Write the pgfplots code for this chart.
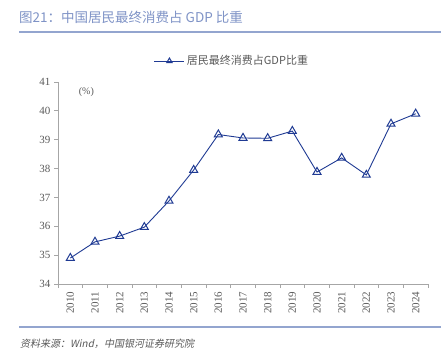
\documentclass[border=0pt]{standalone}
\usepackage{pgfplots}
\pgfplotsset{compat=1.18}
\usepackage{fontspec}
\setmainfont{Liberation Serif}
\newfontfamily\cjk{Noto Sans CJK SC}
\newfontfamily\cjkit[FakeSlant=0.2]{Noto Sans CJK SC}
\definecolor{titleblue}{HTML}{7F93C6}
\definecolor{ruleblue}{HTML}{93A5CF}
\definecolor{lineblue}{HTML}{1F3A93}
\definecolor{axgray}{HTML}{A6A6A6}
\definecolor{txtgray}{HTML}{595959}
\begin{document}
\begin{tikzpicture}
\path[use as bounding box] (0bp,0bp) rectangle (448bp,351bp);
\node[anchor=west, inner sep=0pt, text=titleblue, font=\cjk\fontsize{13.5bp}{15bp}\selectfont] at (19bp,334bp) {图21：中国居民最终消费占 GDP 比重};
\draw[ruleblue, line width=1.2bp] (19bp,319bp) -- (441bp,319bp);
\draw[ruleblue, line width=1.2bp] (19bp,24bp) -- (441bp,24bp);
\node[anchor=west, inner sep=0pt, text=txtgray, font=\cjkit\fontsize{10bp}{12bp}\selectfont] at (20bp,7bp) {资料来源：Wind，中国银河证券研究院};
\begin{axis}[
  at={(58bp,67bp)}, anchor=south west,
  scale only axis, width=370bp, height=202bp,
  xmin=0.5, xmax=15.5, ymin=34, ymax=41,
  axis lines*=left,
  axis line style={axgray, line width=0.8bp},
  ytick={34,...,41},
  xtick={1,...,15},
  xticklabels={2010,2011,2012,2013,2014,2015,2016,2017,2018,2019,2020,2021,2022,2023,2024},
  x tick label style={rotate=90, anchor=east, font=\fontsize{11bp}{13bp}\selectfont, text=txtgray},
  y tick label style={font=\fontsize{11bp}{13bp}\selectfont, text=txtgray},
  /pgf/number format/assume math mode=true,
  major x tick style={draw=none},
  minor xtick={0.5,1.5,...,15.5},
  minor tick length=4bp,
  minor x tick style={axgray, line width=0.8bp},
  major y tick style={axgray, line width=0.8bp},
  major tick length=4bp,
  tick align=outside,
  xtick pos=bottom, ytick pos=left,
  legend style={at={(0.5,1)}, anchor=center, xshift=-11bp, yshift=21bp, draw=none, fill=none,
    font=\cjk\fontsize{11bp}{13bp}\selectfont, text=txtgray, inner sep=1pt},
  legend image code/.code={
    \draw[#1, mark=none] (0bp,0bp) -- (30bp,0bp);
    \draw[#1, mark size=3bp] plot coordinates {(15bp,0bp)};
  },
  legend cell align=left,
  clip=false,
]
\addplot[lineblue, line width=0.9bp, mark=triangle, mark size=4.6bp,
  mark options={fill=white, line width=1bp}]
coordinates {
(1,34.90) (2,35.46) (3,35.66) (4,35.97) (5,36.88) (6,37.95) (7,39.18)
(8,39.06) (9,39.05) (10,39.30) (11,37.88) (12,38.37) (13,37.78) (14,39.55) (15,39.90)
};
\addlegendentry{居民最终消费占GDP比重}
\node[anchor=west, text=txtgray, font=\fontsize{10bp}{12bp}\selectfont, inner sep=0pt] at (rel axis cs:0.056,0.95) {(\%)};
\end{axis}
\end{tikzpicture}
\end{document}
